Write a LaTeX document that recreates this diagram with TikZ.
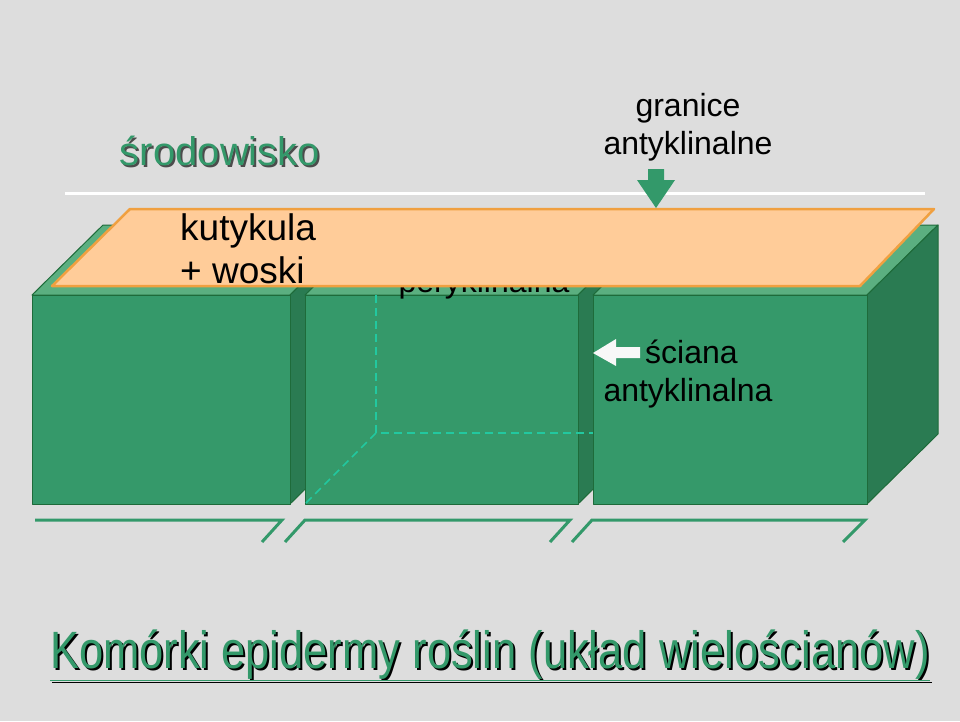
\documentclass[tikz,border=0pt]{standalone}
\usepackage{fontspec}
\setmainfont{Liberation Sans}
\definecolor{bg}{HTML}{DDDDDD}
\definecolor{front}{HTML}{35996A}
\definecolor{side}{HTML}{2A7B52}
\definecolor{topc}{HTML}{5BAF80}
\definecolor{edge}{HTML}{1E6B3A}
\definecolor{cutf}{HTML}{FFCC99}
\definecolor{cutd}{HTML}{F0A040}
\definecolor{dash}{HTML}{22C8A0}
\definecolor{arrg}{HTML}{33996A}
\tikzset{
  face/.style={draw=edge,line width=1pt,line join=round},
  lbl/.style={font=\fontsize{32}{38}\selectfont,align=center,inner sep=0pt},
  big/.style={font=\fontsize{37}{44}\selectfont},
  bracket/.style={draw=arrg,line width=3pt},
  hid/.style={draw=dash,dashed,line width=1.5pt,dash pattern=on 8pt off 5pt}
}
\begin{document}
\begin{tikzpicture}[x=1pt,y=-1pt]
\fill[bg] (0,0) rectangle (960,721);
\useasboundingbox (0,0) rectangle (960,721);
% white line
\draw[white,line width=3pt] (65,193) -- (925,193);
% cells, left to right; depth offset (71,-70)
\foreach \a/\b in {32/290,305/578,593/867}{
  \path[face,fill=topc] (\a,295) -- (\a+71,225) -- (\b+71,225) -- (\b,295) -- cycle;
  \path[face,fill=side] (\b,295) -- (\b+71,225) -- (\b+71,434) -- (\b,504) -- cycle;
  \path[face,fill=front] (\a,295) rectangle (\b,504);
}
% hidden edges of middle cell
\draw[hid] (376,295) -- (376,433) -- (593,433);
\draw[hid] (376,433) -- (306,503);
\node[lbl,anchor=base] (pery) at (484,292) {peryklinalna};
% cuticle
\path[draw=cutd,fill=cutf,line width=2.5pt,line join=round] (130,209) -- (934,209) -- (860,286) -- (52,286) -- cycle;
\node[lbl,big,anchor=base west] (kut) at (180,240) {kutykula};
\node[lbl,big,anchor=base west] (wos) at (180,283) {+ woski};
% labels
\node[lbl,anchor=base,text=black!70,font=\fontsize{40}{48}\selectfont] at (222,167) {środowisko};
\node[lbl,anchor=base,text=arrg,font=\fontsize{40}{48}\selectfont] (sro) at (220,165) {środowisko};
\node[lbl,anchor=base] (gran1) at (688,116) {granice};
\node[lbl,anchor=base] (gran2) at (688,154) {antyklinalne};
\node[lbl,anchor=base west] (sc1) at (645,363) {ściana};
\node[lbl,anchor=base] (sc2) at (688,401) {antyklinalna};
% arrows
\fill[arrg] (648,169) -- (664,169) -- (664,180) -- (675,180) -- (656,208) -- (637,180) -- (648,180) -- cycle;
\fill[white!80!bg] (640,347) -- (616,347) -- (616,339) -- (593,353) -- (616,366) -- (616,358) -- (640,358) -- cycle;
% brackets
\draw[bracket] (35,520) -- (282,520) -- (262,542);
\draw[bracket] (285,542) -- (305,520) -- (570,520) -- (550,542);
\draw[bracket] (572,542) -- (592,520) -- (865,520) -- (843,542);
% title
\node[inner sep=0pt,anchor=base,text=black] at (492,670) {\scalebox{0.87}[1.05]{\fontsize{50}{60}\selectfont\underline{Komórki epidermy roślin (układ wielościanów)}}};
\node[inner sep=0pt,anchor=base,text=arrg] (title) at (490,668) {\scalebox{0.87}[1.05]{\fontsize{50}{60}\selectfont\underline{Komórki epidermy roślin (układ wielościanów)}}};
\end{tikzpicture}
\end{document}
